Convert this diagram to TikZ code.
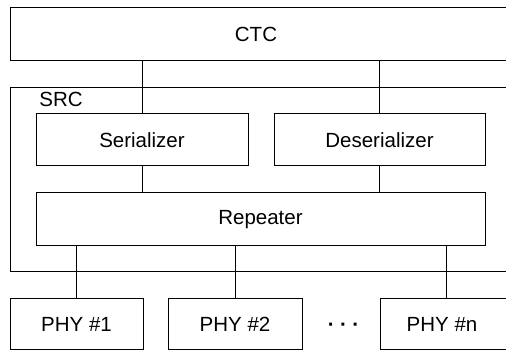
\documentclass[tikz,border=0pt]{standalone}
\usepackage{fontspec}
\setmainfont{Liberation Sans}
\begin{document}
\begin{tikzpicture}[x=1pt,y=-1pt,
  box/.style={draw=black, line width=1pt, rectangle, inner sep=0pt, fill=none},
  link/.style={draw=black, line width=1pt},
  every node/.append style={font=\fontsize{20.5}{24}\selectfont}]
\useasboundingbox (0,0) rectangle (506,352);
\clip (0,0) rectangle (506,352);
% boxes
\node[box, minimum width=510pt, minimum height=53pt,
  label={[xshift=-9pt]center:CTC}] (ctc) at (265,34.5) {};
\node[box, minimum width=510pt, minimum height=184pt] (src) at (265,180) {};
\node[anchor=center] (srclabel) at (61,99.5) {SRC};
\node[box, minimum width=212pt, minimum height=52pt] (ser) at (142,140) {Serializer};
\node[box, minimum width=211pt, minimum height=52pt] (des) at (379.5,140) {Deserializer};
\node[box, minimum width=449pt, minimum height=53pt] (rep) at (260.5,219.5) {Repeater};
\node[box, minimum width=133pt, minimum height=51pt] (phy1) at (76.5,324.5) {PHY \#1};
\node[box, minimum width=134pt, minimum height=51pt] (phy2) at (235,324.5) {PHY \#2};
\node[box, minimum width=132pt, minimum height=51pt,
  label={[xshift=-4pt]center:PHY \#n}] (phyn) at (446,324.5) {};
\node[font=\fontsize{20.5}{24}\selectfont\bfseries] (dots) at (343.5,327) {·\hspace{5.5pt}·\hspace{5.5pt}·};
% connectors
\draw[link] (ctc.south -| ser.north) -- (ser.north);
\draw[link] (ctc.south -| des.north) -- (des.north);
\draw[link] (ser.south) -- (ser.south |- rep.north);
\draw[link] (des.south) -- (des.south |- rep.north);
\draw[link] (rep.south -| phy1.north) -- (phy1.north);
\draw[link] (rep.south -| phy2.north) -- (phy2.north);
\draw[link] (rep.south -| phyn.north) -- (phyn.north);
\end{tikzpicture}
\end{document}
